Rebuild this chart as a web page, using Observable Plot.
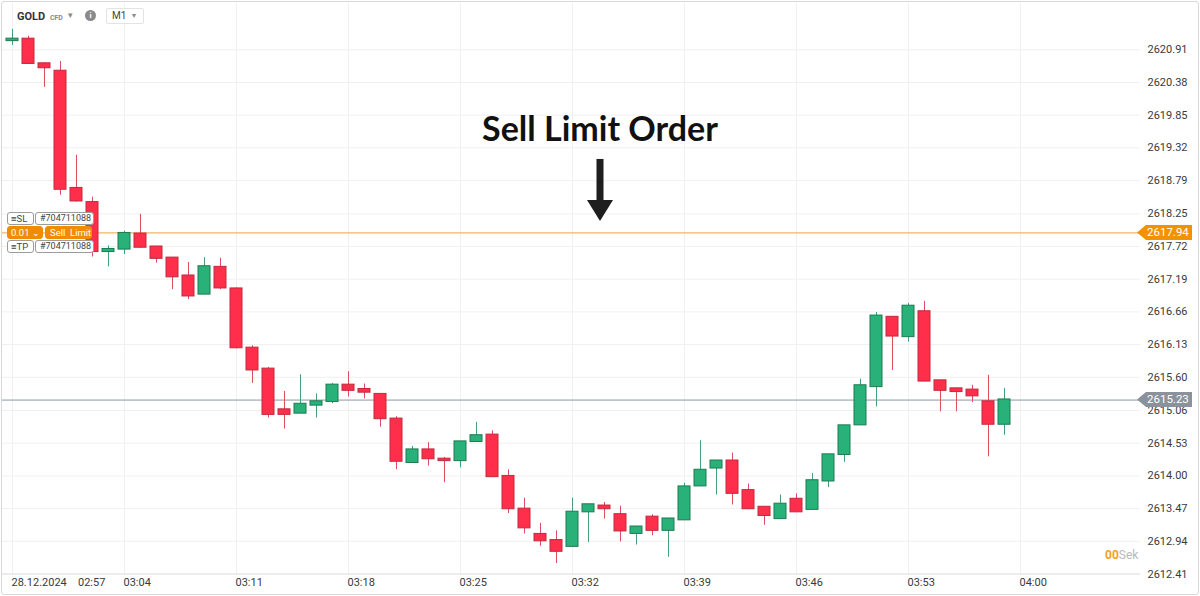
<!DOCTYPE html>
<html><head><meta charset="utf-8">
<script src="https://cdn.jsdelivr.net/npm/d3@7"></script>
<script src="https://cdn.jsdelivr.net/npm/@observablehq/plot@0.6"></script>
<style>
body{margin:0;background:#fff;font-family:Roboto,sans-serif;}
#wrap{position:relative;width:1200px;height:596px;overflow:hidden;background:#fff;}
#wrap > svg.plot{position:absolute;left:0;top:0;}
.ov{position:absolute;box-sizing:border-box;white-space:nowrap;}
.lbl{position:absolute;box-sizing:border-box;height:13px;border:1px solid #9c9c9c;border-radius:3px;background:#fff;font:9.5px/11px Roboto,sans-serif;color:#444;padding:0 3px;white-space:nowrap;overflow:hidden;}
.lbl.id{font-size:9px;padding:0 0 0 4px;}
.lbl.or{background:#f08c00;border-color:#f08c00;color:#fff;}
.tag{position:absolute;height:15px;width:55px;font:11.5px/15px Roboto,sans-serif;color:#fff;padding-left:10px;box-sizing:border-box;clip-path:polygon(0 50%,9px 0,100% 0,100% 100%,9px 100%);}
</style></head>
<body><div id="wrap"></div>
<script>
// ---- data ----
const startTime = "2024-12-28T02:57:00Z";   // first 1-minute candle
const opens  = [2621.05,2621.09,2620.69,2620.57,2618.67,2618.44,2617.63,2617.67,2617.93,2617.72,
                2617.54,2617.25,2616.94,2617.39,2617.04,2616.08,2615.74,2615.08,2615.01,2615.14,
                2615.20,2615.48,2615.41,2615.33,2614.93,2614.21,2614.43,2614.28,2614.24,2614.55,
                2614.67,2614.00,2613.47,2613.06,2612.96,2612.85,2613.41,2613.52,2613.38,2613.06,
                2613.34,2613.11,2613.28,2613.83,2614.12,2614.25,2613.77,2613.50,2613.30,2613.63,
                2613.45,2613.91,2614.34,2614.82,2615.44,2616.58,2616.25,2616.67,2615.55,2615.42,
                2615.40,2615.21,2614.83];
const highs  = [2621.24,2621.13,2620.70,2620.72,2619.20,2618.52,2617.73,2617.97,2618.24,2617.72,
                2617.54,2617.46,2617.54,2617.53,2617.05,2616.11,2615.76,2615.37,2615.64,2615.33,
                2615.50,2615.69,2615.49,2615.33,2614.96,2614.48,2614.54,2614.30,2614.56,2614.87,
                2614.73,2614.10,2613.64,2613.23,2613.11,2613.64,2613.54,2613.57,2613.51,2613.18,
                2613.37,2613.31,2613.88,2614.57,2614.25,2614.37,2613.87,2613.50,2613.69,2613.71,
                2614.04,2614.35,2614.82,2615.57,2616.65,2616.58,2616.80,2616.83,2615.55,2615.42,
                2615.47,2615.63,2615.42];
const lows   = [2620.98,2620.67,2620.30,2618.55,2618.44,2617.55,2617.39,2617.59,2617.69,2617.45,
                2617.02,2616.86,2616.94,2617.02,2616.06,2615.50,2614.94,2614.76,2615.01,2614.94,
                2615.17,2615.28,2615.25,2614.79,2614.10,2614.21,2614.16,2613.89,2614.13,2614.55,
                2613.98,2613.39,2613.06,2612.86,2612.58,2612.85,2612.92,2613.30,2612.93,2612.88,
                2613.03,2612.68,2613.28,2613.83,2613.69,2613.53,2613.46,2613.20,2613.30,2613.41,
                2613.45,2613.81,2614.22,2614.82,2615.12,2615.71,2616.17,2615.53,2615.04,2615.04,
                2615.19,2614.31,2614.66];
const closes = [2621.09,2620.68,2620.61,2618.64,2618.45,2617.63,2617.68,2617.94,2617.70,2617.52,
                2617.22,2616.91,2617.40,2617.04,2616.07,2615.71,2614.99,2614.99,2615.17,2615.21,
                2615.48,2615.38,2615.35,2614.92,2614.23,2614.43,2614.27,2614.24,2614.56,2614.66,
                2613.98,2613.46,2613.15,2612.94,2612.77,2613.42,2613.54,2613.46,2613.10,2613.18,
                2613.11,2613.31,2613.83,2614.10,2614.25,2613.71,2613.46,2613.35,2613.55,2613.41,
                2613.93,2614.35,2614.82,2615.47,2616.60,2616.26,2616.76,2615.53,2615.38,2615.36,
                2615.29,2614.83,2615.24];
const yTicks = [2612.41,2612.94,2613.47,2614.00,2614.53,2615.06,2615.60,2616.13,2616.66,
                2617.19,2617.72,2618.25,2618.79,2619.32,2619.85,2620.38,2620.91];
const xTickLabels = ["02:57","03:04","03:11","03:18","03:25","03:32","03:39","03:46","03:53","04:00"];
const dateLabel = "28.12.2024";
const sellLimit = 2617.94;
const lastPrice = 2615.23;
const orderId = "#704711088";
const lotSize = "0.01";
const title = "Sell Limit Order";

// ---- build ----
const t0 = new Date(startTime).getTime();
const MIN = 60000;
const candles = opens.map((o, i) => ({t: new Date(t0 + i * MIN), o, h: highs[i], l: lows[i], c: closes[i]}));
const xTicks = xTickLabels.map(s => new Date(`2024-12-28T${s}:00Z`));
const half = 0.375 * MIN;  // half body width in time units
const up = d => d.c >= d.o;

const chart = Plot.plot({
  width: 1200, height: 596,
  marginTop: 3, marginBottom: 22.5, marginLeft: 2, marginRight: 60,
  style: {fontFamily: "Roboto, sans-serif", fontSize: "11px", color: "#3a3a3a", background: "transparent"},
  x: {type: "utc", domain: [new Date(t0 - 0.625 * MIN), new Date(xTicks[xTicks.length - 1].getTime() + 7.5 * MIN)]},
  y: {domain: [2612.41, 2621.66]},
  color: {type: "identity"},
  marks: [
    Plot.gridY(yTicks, {stroke: "#f0f0f0", strokeOpacity: 1}),
    Plot.gridX(xTicks, {stroke: "#f0f0f0", strokeOpacity: 1}),
    Plot.ruleY([yTicks[0]], {stroke: "#e2e2e2"}),
    Plot.axisY(yTicks, {anchor: "right", tickSize: 0, tickPadding: 7, tickFormat: d => d.toFixed(2), label: null, fill: "#3a3a3a"}),
    Plot.axisX(xTicks, {anchor: "bottom", tickSize: 0, tickPadding: 4, textAnchor: "start", dx: -1, label: null, fill: "#3a3a3a",
      tickFormat: d => (d.getTime() === xTicks[0].getTime() ? dateLabel + "\u2002\u2002" : "") + d3.utcFormat("%H:%M")(d)}),
    Plot.ruleY([sellLimit], {stroke: "#f2b46a", strokeWidth: 1.2}),
    Plot.ruleY([lastPrice], {stroke: "#8d979f"}),
    Plot.ruleX(candles, {x: "t", y1: "l", y2: "h", stroke: d => up(d) ? "#45a07a" : "#dc4e60"}),
    Plot.rect(candles, {
      x1: d => new Date(d.t.getTime() - half), x2: d => new Date(d.t.getTime() + half),
      y1: d => Math.min(d.o, d.c), y2: d => Math.max(d.o, d.c),
      fill: d => up(d) ? "#28b27a" : "#ff2e4a",
      stroke: d => up(d) ? "#1d7a52" : "#c22a3e", strokeWidth: 1
    })
  ]
});
chart.classList.add("plot");
const wrap = document.getElementById("wrap");
wrap.appendChild(chart);

const ys = chart.scale("y");
function el(cls, css, html) { const e = document.createElement("div"); e.className = cls; e.style.cssText = css; e.innerHTML = html; wrap.appendChild(e); return e; }

// price tags
const yS = ys.apply(sellLimit), yL = ys.apply(lastPrice);
el("tag", `left:1137px;top:${yS - 7.5}px;background:#f39200;`, sellLimit.toFixed(2));
el("tag", `left:1137px;top:${yL - 7.5}px;background:#8a939b;`, lastPrice.toFixed(2));

// order labels
el("lbl", `left:7px;top:${yS - 20}px;width:27px;`, "&#8801;SL");
el("lbl id", `left:35px;top:${yS - 20}px;width:59px;`, orderId);
el("lbl or", `left:7px;top:${yS - 6}px;width:36px;`, lotSize + ' <span style="font-size:9px">&#8964;</span>');
el("lbl or", `left:45px;top:${yS - 6}px;width:47px;padding-left:4px;`, "Sell&nbsp; Limit");
el("lbl", `left:7px;top:${yS + 8}px;width:27px;`, "&#8801;TP");
el("lbl id", `left:35px;top:${yS + 8}px;width:59px;`, orderId);

// header
el("ov", "left:17px;top:10px;font:bold 11px Roboto,sans-serif;color:#333;", 'GOLD <span style="font-size:7px;color:#888;font-weight:bold;margin-left:2px;">CFD</span>');
el("ov", "left:68px;top:10px;font:9px Roboto,sans-serif;color:#888;", "&#9662;");
el("ov", "left:85px;top:10px;width:11px;height:11px;border-radius:50%;background:#8a8a8a;color:#fff;font:bold 8px/11px Roboto,sans-serif;text-align:center;", "i");
el("ov", "left:106px;top:8px;width:38px;height:16px;border:1px solid #e3e3e3;border-radius:2px;background:#fff;font:10px/14px Roboto,sans-serif;color:#444;padding-left:5px;", 'M1<span style="position:absolute;left:25px;top:0;font-size:8px;color:#888;">&#9662;</span>');

// timer
el("ov", "left:1105px;top:548px;font:12px Roboto,sans-serif;", '<span style="color:#f5a01e;font-weight:bold;">00</span><span style="color:#b9b9b9;">Sek</span>');

// title + arrow annotation
const ns = "http://www.w3.org/2000/svg";
const ann = document.createElementNS(ns, "svg");
ann.setAttribute("width", 1200); ann.setAttribute("height", 596);
ann.style.cssText = "position:absolute;left:0;top:0;pointer-events:none;";
ann.innerHTML = `<text x="600" y="141" text-anchor="middle" font-family="Lato" font-weight="700" font-size="34" fill="#111">${title}</text>
<rect x="596.5" y="159" width="7" height="43" fill="#1e1e1e"/>
<polygon points="587,200 613,200 600,221" fill="#1e1e1e"/>`;
wrap.appendChild(ann);

// outer frame
el("ov", "left:1px;top:1px;width:1198px;height:594px;border:1px solid #d9d9d9;border-radius:3px;pointer-events:none;", "");
</script></body></html>
